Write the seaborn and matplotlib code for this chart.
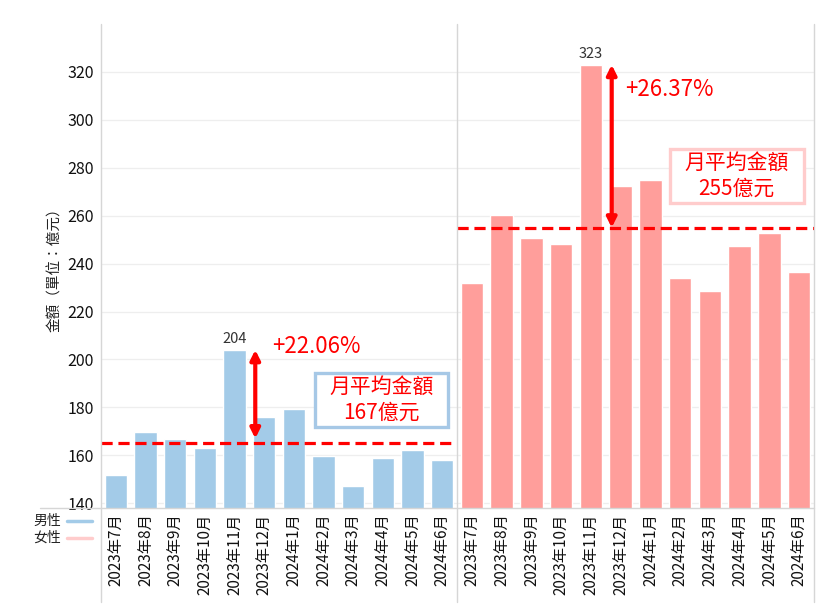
import numpy as np
import pandas as pd
import seaborn as sns
import matplotlib.pyplot as plt
from matplotlib.lines import Line2D
from matplotlib.patches import Rectangle

# data
months = ['2023年7月', '2023年8月', '2023年9月', '2023年10月', '2023年11月', '2023年12月',
          '2024年1月', '2024年2月', '2024年3月', '2024年4月', '2024年5月', '2024年6月']
male = [151.7, 169.7, 166.8, 163.0, 204.0, 176.1, 179.2, 159.9, 147.2, 158.9, 162.1, 158.0]
female = [232.0, 260.3, 250.8, 248.2, 323.0, 272.4, 274.7, 233.9, 228.6, 247.5, 252.9, 236.3]
avg_line = [165, 255]
avg_value = [167, 255]
avg_label = ['月平均金額\n167億元', '月平均金額\n255億元']
peak_label = ['204', '323']
pct_label = ['+22.06%', '+26.37%']
sexes = ['男性', '女性']

bar_colors = ['#a3cbe8', '#ff9e9b']
box_colors = ['#a6c8e6', '#ffcccc']
legend_colors = ['#a3cbe8', '#ffcccc']

sns.set_theme(style='white')
plt.rcParams['font.family'] = ['Noto Sans CJK TC', 'DejaVu Sans']

W, H = 824, 611
fig = plt.figure(figsize=(W / 100, H / 100), dpi=100)


def fx(px):
    return px / W


def fy(py):
    return 1 - py / H


ax_l = fig.add_axes([fx(101), fy(508), fx(356), (508 - 24) / H])
ax_r = fig.add_axes([fx(457), fy(508), fx(357), (508 - 24) / H], sharey=ax_l)
axes = [ax_l, ax_r]

# annotation placement (data units)
pct_pos = [(5.26, 205.5), (5.16, 312.5)]
box_pos = [(8.96, 183.1), (8.9, 276.6)]

for i, (ax, vals) in enumerate(zip(axes, [male, female])):
    df = pd.DataFrame({'month': months, 'amount': vals})
    sns.barplot(data=df, x='month', y='amount', color=bar_colors[i],
                saturation=1, width=0.75, ax=ax, zorder=2)
    ax.set_xlim(-0.5, len(months) - 0.5)
    ax.set_ylim(138, 340)
    ax.set_yticks(range(140, 321, 20))
    ax.grid(axis='y', color='#eeeeee', lw=0.9, zorder=0)
    ax.set_axisbelow(True)
    for s in ax.spines.values():
        s.set_visible(False)
    ax.set_xlabel('')
    ax.set_ylabel('')
    ax.tick_params(axis='x', length=0, pad=4, labelsize=11, labelrotation=90,
                   labelcolor='#111111')
    ax.tick_params(axis='y', length=0, pad=5, labelsize=11.5,
                   labelcolor='#111111')
    for lab in ax.get_xticklabels():
        lab.set_va('top')

    # average line
    ax.axhline(avg_line[i], color='red', ls=(0, (3.5, 1.8)), lw=2.3, zorder=3)

    # peak label, arrow and percent
    k = int(np.argmax(vals))
    ax.text(k, vals[k] + 1.5, peak_label[i], ha='center', va='bottom',
            fontsize=10.5, color='#333333')
    ax.annotate('', xy=(k + 0.7, vals[k]), xytext=(k + 0.7, avg_value[i]),
                arrowprops=dict(arrowstyle='<|-|>', color='red', lw=3,
                                mutation_scale=14, shrinkA=0, shrinkB=0),
                zorder=4)
    ax.text(pct_pos[i][0], pct_pos[i][1], pct_label[i], ha='left',
            va='center', fontsize=16, color='red')

    # average box
    cx, cy = box_pos[i]
    ax.add_patch(Rectangle((cx - 2.25, cy - 11.4), 4.5, 22.8, fc='white',
                           ec=box_colors[i], lw=2.4, zorder=5))
    ax.text(cx, cy, avg_label[i], ha='center', va='center', fontsize=15,
            color='red', linespacing=1.2, zorder=6)

ax_r.tick_params(axis='y', labelleft=False)

# frame lines
line_c = '#d6d6d6'
for x in [101, 457, 814]:
    fig.add_artist(Line2D([fx(x), fx(x)], [fy(24), fy(602)], color=line_c, lw=1))
fig.add_artist(Line2D([fx(40), fx(814)], [fy(508), fy(508)], color=line_c, lw=1))

# y label
fig.text(fx(55), fy(266), '金額（單位：億元）', rotation=90, ha='center',
         va='center', fontsize=10.5, color='#222222')

# legend
for j, (name, c) in enumerate(zip(sexes, legend_colors)):
    yy = 521 + j * 16.5
    fig.text(fx(61), fy(yy), name, ha='right', va='center', fontsize=10,
             color='#222222')
    fig.add_artist(Line2D([fx(67), fx(92)], [fy(yy), fy(yy)], color=c, lw=2.5))

fig.savefig('out.png', dpi=100)
